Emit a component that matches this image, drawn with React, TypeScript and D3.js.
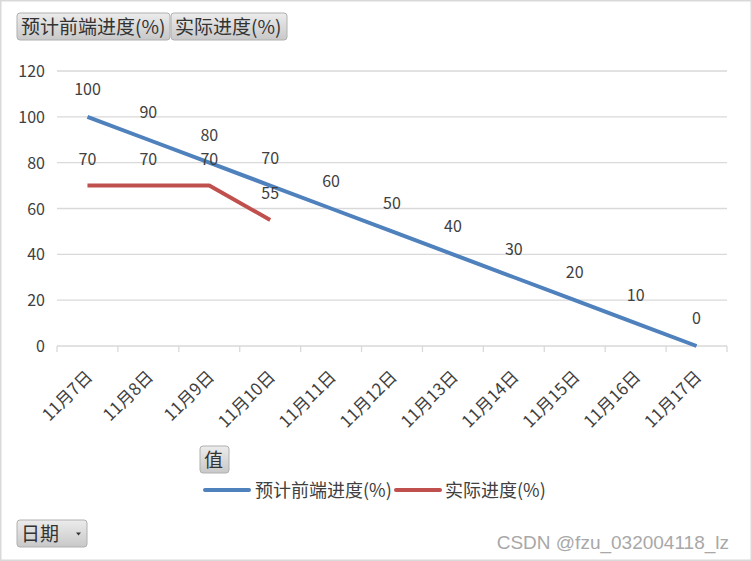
import React from "react";
import * as d3 from "d3";

const dates = ["11月7日","11月8日","11月9日","11月10日","11月11日","11月12日","11月13日","11月14日","11月15日","11月16日","11月17日"];
const planned = [100, 90, 80, 70, 60, 50, 40, 30, 20, 10, 0];
const actual = [70, 70, 70, 55];
const yTicks = [0, 20, 40, 60, 80, 100, 120];
const seriesNames = ["预计前端进度(%)", "实际进度(%)"];
const colors = ["#4f81bd", "#c0504d"];

const W = 752, H = 561;
const FONT = "'Noto Sans CJK SC', 'Noto Sans', sans-serif";

function Button({ x, y, w, h, label, arrow }: { x: number; y: number; w: number; h: number; label: string; arrow?: boolean }) {
  return (
    <g>
      <rect x={x} y={y} width={w} height={h} rx={3} fill="url(#btnGrad)" stroke="#b0b0b0" />
      <text x={x + 4} y={y + h / 2 + 7} fontSize={19} fill="#333" fontFamily={FONT}>{label}</text>
      {arrow && <path d={`M${x + w - 11},${y + h / 2 - 1} l5,0 l-2.5,3 z`} fill="#333" />}
    </g>
  );
}

export default function App() {
  const x = d3.scaleBand<string>().domain(dates).range([57, 727]);
  const y = d3.scaleLinear().domain([0, 120]).range([346, 71]);
  const cx = (d: string) => (x(d) as number) + x.bandwidth() / 2;
  const line = d3.line<number>().x((_, i) => cx(dates[i])).y((v) => y(v));
  const ticksX = dates.map((d) => x(d) as number).concat([727]);

  return (
    <svg width={W} height={H} style={{ position: "absolute", left: 0, top: 0, background: "#fff" }} fontFamily={FONT}>
      <defs>
        <linearGradient id="btnGrad" x1="0" y1="0" x2="0" y2="1">
          <stop offset="0" stopColor="#ececec" />
          <stop offset="1" stopColor="#c8c8c8" />
        </linearGradient>
      </defs>
      <rect x={0.5} y={0.5} width={W - 1} height={H - 1} fill="#fff" stroke="#d9d9d9" strokeWidth={2} />

      <Button x={17} y={13} w={153} h={27} label={seriesNames[0]} />
      <Button x={171} y={13} w={116} h={27} label={seriesNames[1]} />

      {yTicks.map((t) => (
        <g key={t}>
          <line x1={57} x2={727} y1={y(t)} y2={y(t)} stroke="#d9d9d9" strokeWidth={1.3} />
          <text x={45} y={y(t) + 6} textAnchor="end" fontSize={16} fill="#404040">{t}</text>
        </g>
      ))}
      {ticksX.map((t, i) => (
        <line key={i} x1={t} x2={t} y1={346} y2={352} stroke="#d9d9d9" strokeWidth={1.3} />
      ))}
      {dates.map((d) => (
        <text key={d} transform={`translate(${cx(d) + 6},${378}) rotate(-45)`} textAnchor="end" fontSize={17} fill="#404040">{d}</text>
      ))}

      <path d={line(planned) || ""} fill="none" stroke={colors[0]} strokeWidth={4} strokeLinejoin="round" />
      <path d={line(actual) || ""} fill="none" stroke={colors[1]} strokeWidth={4} strokeLinejoin="round" />

      {planned.map((v, i) => (
        <text key={"p" + i} x={cx(dates[i])} y={y(v) - 22} textAnchor="middle" fontSize={16} fill="#404040">{v}</text>
      ))}
      {actual.map((v, i) => (
        <text key={"a" + i} x={cx(dates[i])} y={y(v) - 21} textAnchor="middle" fontSize={16} fill="#404040">{v}</text>
      ))}

      <Button x={200} y={446} w={29} h={27} label="值" />

      <line x1={205} x2={249} y1={490} y2={490} stroke={colors[0]} strokeWidth={4} strokeLinecap="round" />
      <text x={255} y={497} fontSize={18} fill="#404040">{seriesNames[0]}</text>
      <line x1={396} x2={440} y1={490} y2={490} stroke={colors[1]} strokeWidth={4} strokeLinecap="round" />
      <text x={445} y={497} fontSize={18} fill="#404040">{seriesNames[1]}</text>

      <Button x={17} y={520} w={70} h={27} label="日期" arrow />

      <text x={729} y={549} textAnchor="end" fontSize={19} fill="#a8a8a8" fontFamily="'Liberation Sans Narrow', 'Liberation Sans', sans-serif">CSDN @fzu_032004118_lz</text>
    </svg>
  );
}
